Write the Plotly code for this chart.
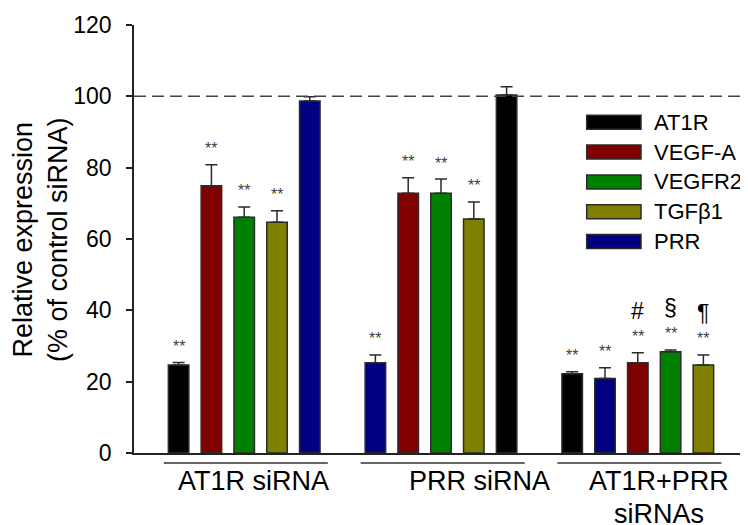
import plotly.graph_objects as go

# ---------------- data ----------------
series = ["AT1R", "VEGF-A", "VEGFR2", "TGFβ1", "PRR"]
colors = ["#000000", "#800000", "#008000", "#808000", "#000080"]
groups = ["AT1R siRNA", "PRR siRNA", "AT1R+PRR<br>siRNAs"]
group_orders = [
    ["AT1R", "VEGF-A", "VEGFR2", "TGFβ1", "PRR"],
    ["PRR", "VEGF-A", "VEGFR2", "TGFβ1", "AT1R"],
    ["AT1R", "PRR", "VEGF-A", "VEGFR2", "TGFβ1"],
]
means = {
    "AT1R":   [24.7, 100.4, 22.2],
    "VEGF-A": [74.9, 72.8, 25.3],
    "VEGFR2": [66.1, 72.8, 28.4],
    "TGFβ1":  [64.7, 65.6, 24.7],
    "PRR":    [98.7, 25.3, 20.9],
}
errors = {
    "AT1R":   [0.7, 2.3, 0.6],
    "VEGF-A": [5.9, 4.4, 2.8],
    "VEGFR2": [2.9, 4.0, 0.5],
    "TGFβ1":  [3.2, 4.8, 2.8],
    "PRR":    [1.2, 2.2, 3.0],
}
stars = {
    "AT1R":   ["**", "", "**"],
    "VEGF-A": ["**", "**", "**"],
    "VEGFR2": ["**", "**", "**"],
    "TGFβ1":  ["**", "**", "**"],
    "PRR":    ["", "**", "**"],
}
extra = {
    "AT1R":   ["", "", ""],
    "VEGF-A": ["", "", "#"],
    "VEGFR2": ["", "", "§"],
    "TGFβ1":  ["", "", "¶"],
    "PRR":    ["", "", ""],
}
yticks = [0, 20, 40, 60, 80, 100, 120]
reference_level = 100

FONT = "Liberation Sans, Arial, sans-serif"
OFF = 8                      # page body margin of the html
W, H = 748 - OFF, 525 - OFF
ML, MR, MT, MB = 134 - OFF, 0, 25 - OFF, 72
PW, PH = W - ML - MR, H - MT - MB
GROUP_STEP = 6


def px_x(page_x):
    return (page_x - OFF - ML) / PW


def px_y(page_y):
    return (H - MB - (page_y - OFF)) / PH


fig = go.Figure()
annotations = []
shapes = []

for s, c in zip(series, colors):
    xs = [g * GROUP_STEP + group_orders[g].index(s) for g in range(len(groups))]
    fig.add_trace(go.Bar(
        x=xs, y=means[s], name=s, width=0.625,
        marker=dict(color=c, line=dict(color="#2b2b2b", width=1.5)),
        error_y=dict(type="data", symmetric=False, array=errors[s],
                     arrayminus=[0] * len(xs), color="#2b2b2b",
                     thickness=1.5, width=6),
        showlegend=False,
    ))
    for x, m, e, st, ex in zip(xs, means[s], errors[s], stars[s], extra[s]):
        if st:
            annotations.append(dict(x=x, y=m + e, xref="x", yref="y", text=st,
                                    showarrow=False, yanchor="middle", yshift=16,
                                    font=dict(family=FONT, size=16, color="#404040")))
        if ex:
            annotations.append(dict(x=x, y=m + e, xref="x", yref="y", text=ex,
                                    showarrow=False, yanchor="middle", yshift=42,
                                    font=dict(family=FONT, size=23, color="#000000")))

# group underline + labels
label_offsets = [0.27, 1.16, 0.66]
LINE_PITCH = 33
for g, (name, off) in enumerate(zip(groups, label_offsets)):
    x0 = g * GROUP_STEP - 0.45
    x1 = g * GROUP_STEP + 4.55
    shapes.append(dict(type="line", xref="x", yref="paper", x0=x0, x1=x1,
                       y0=-10 / PH, y1=-10 / PH, line=dict(color="#333333", width=1.5)))
    for li, line_text in enumerate(name.split("<br>")):
        annotations.append(dict(x=g * GROUP_STEP + 2 + off, y=-11 / PH, xref="x", yref="paper",
                                text=line_text, showarrow=False, xanchor="center", yanchor="top",
                                yshift=-li * LINE_PITCH,
                                font=dict(family=FONT, size=27, color="#000000")))

# dashed reference line
shapes.append(dict(type="line", xref="paper", yref="y", x0=0, x1=1,
                   y0=reference_level, y1=reference_level,
                   line=dict(color="#444444", width=1.5, dash="12px,6px")))

# custom legend
row0_px, row_step = 122.3, 29.8
for i, (s, c) in enumerate(zip(series, colors)):
    yp = px_y(row0_px + i * row_step)
    shapes.append(dict(type="rect", xref="paper", yref="paper",
                       x0=px_x(586.7), x1=px_x(641),
                       y0=yp - 7 / PH, y1=yp + 7 / PH,
                       fillcolor=c, line=dict(color="#2b2b2b", width=1.5)))
    annotations.append(dict(x=px_x(652), y=yp, xref="paper", yref="paper",
                            text=s, showarrow=False, xanchor="left", yanchor="middle",
                            font=dict(family=FONT, size=22, color="#000000")))

# y-axis title
annotations.append(dict(x=px_x(40), y=0.5, xref="paper", yref="paper",
                        text="Relative expression<br>(% of control siRNA)",
                        textangle=-90, showarrow=False, xanchor="center", yanchor="middle",
                        font=dict(family=FONT, size=27, color="#000000")))

fig.update_layout(
    width=W, height=H,
    margin=dict(l=ML, r=MR, t=MT, b=MB, autoexpand=False),
    paper_bgcolor="white", plot_bgcolor="white",
    barmode="overlay",
    annotations=annotations, shapes=shapes,
    font=dict(family=FONT, color="#000000"),
)
fig.update_xaxes(range=[-1.36, 17.36], showticklabels=False, ticks="",
                 showgrid=False, zeroline=False, showline=True,
                 linecolor="#222222", linewidth=1.5)
fig.update_yaxes(range=[0, 120], tickvals=yticks, ticks="outside", ticklen=6,
                 tickwidth=1.5, tickcolor="#222222", showgrid=False, zeroline=False,
                 showline=True, linecolor="#222222", linewidth=1.5,
                 tickfont=dict(family=FONT, size=23, color="#000000"),
                 ticklabelstandoff=10)

fig.write_html("out.html")
